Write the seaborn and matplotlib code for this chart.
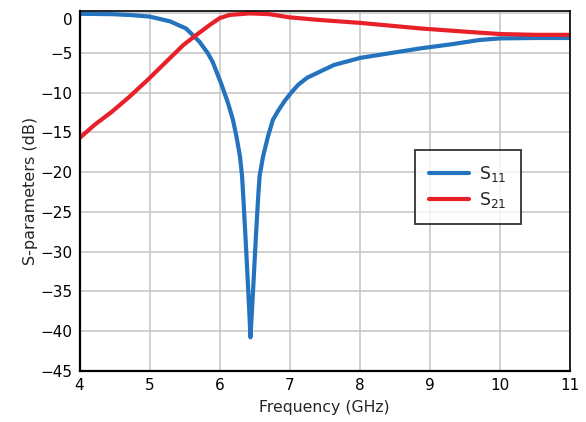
import matplotlib
matplotlib.use("Agg")
import matplotlib.pyplot as plt
import matplotlib.transforms as mtransforms
import seaborn as sns
import pandas as pd

freq_s11 = [4.0, 4.46, 4.71, 5.0, 5.29, 5.52, 5.71, 5.83, 5.90, 6.02, 6.12, 6.19, 6.24,
            6.29, 6.32, 6.34, 6.38, 6.42, 6.44, 6.48, 6.52, 6.55, 6.57, 6.62, 6.69, 6.76,
            6.84, 6.93, 7.02, 7.12, 7.25, 7.63, 8.01, 8.44, 8.87, 9.3, 9.71, 10.0, 10.5,
            11.0]
s11_db = [-0.05, -0.1, -0.2, -0.4, -1.0, -1.9, -3.55, -5.0, -6.1, -8.8, -11.3, -13.4,
          -15.5, -18.0, -20.5, -23.5, -30.0, -37.0, -40.8, -34.4, -27.7, -23.1, -20.5,
          -18.0, -15.5, -13.4, -12.2, -11.0, -10.0, -9.0, -8.1, -6.5, -5.6, -5.0, -4.4,
          -3.9, -3.35, -3.15, -3.1, -3.1]

freq_s21 = [4.0, 4.22, 4.46, 4.70, 4.97, 5.19, 5.48, 5.67, 5.86, 6.0, 6.14, 6.43, 6.71,
            7.0, 7.38, 8.01, 8.87, 9.5, 10.0, 10.5, 11.0]
s21_db = [-15.7, -14.0, -12.4, -10.6, -8.4, -6.5, -4.0, -2.7, -1.45, -0.6, -0.2, 0.0,
          -0.1, -0.5, -0.8, -1.2, -1.9, -2.3, -2.6, -2.7, -2.7]

series_labels = ["S$_{11}$", "S$_{21}$"]
x_ticks = [4, 5, 6, 7, 8, 9, 10, 11]
y_ticks = [0, -5, -10, -15, -20, -25, -30, -35, -40, -45]

df = pd.concat([
    pd.DataFrame({"f": freq_s11, "db": s11_db, "s": series_labels[0]}),
    pd.DataFrame({"f": freq_s21, "db": s21_db, "s": series_labels[1]}),
])

sns.set_style("white")
plt.rcParams["font.family"] = ["DejaVu Sans"]
plt.rcParams["mathtext.default"] = "regular"

W, H = 586, 422
left_px, right_px, top_px, bottom_px = 79.5, 570, 11, 370.7
fig = plt.figure(figsize=(W / 100, H / 100), dpi=100)
ax = fig.add_axes([left_px / W, 1 - bottom_px / H, (right_px - left_px) / W,
                   (bottom_px - top_px) / H])

sns.lineplot(data=df, x="f", y="db", hue="s", palette=["#2373BE", "#E8202A"],
             linewidth=3.0, ax=ax, legend=True)
for ln in ax.get_lines():
    ln.set_solid_joinstyle("round")

ax.set_xlim(4, 11)
ax.set_ylim(-45, 0.3)
ax.set_xticks(x_ticks)
ax.set_yticks(y_ticks)
ax.grid(True, color="#c4c4c4", linewidth=1.1)
ax.set_axisbelow(True)
for sp in ax.spines.values():
    sp.set_color("black")
    sp.set_linewidth(1.2)
ax.spines["left"].set_linewidth(1.6)
ax.spines["bottom"].set_linewidth(1.6)
ax.tick_params(axis="both", length=0, labelsize=11, pad=5, colors="black")
ax.set_xlabel("Frequency (GHz)", fontsize=11.3, labelpad=5)
ax.set_ylabel("S-parameters (dB)", fontsize=11.5, labelpad=2)

# shift the "0" label slightly down as in the reference
fig.canvas.draw()
for lbl in ax.get_yticklabels():
    if lbl.get_text() == "0":
        lbl.set_transform(lbl.get_transform() +
                          mtransforms.ScaledTranslation(0, -4.3 / 72, fig.dpi_scale_trans))

ax_w = right_px - left_px
ax_h = bottom_px - top_px
leg = ax.legend(loc="upper left",
                bbox_to_anchor=((415 - left_px) / ax_w, 1 - (150 - top_px) / ax_h),
                borderaxespad=0, frameon=True, fancybox=False, edgecolor="black",
                fontsize=12.5, handlelength=2.3, borderpad=0.8, labelspacing=0.35,
                handletextpad=0.6)
leg.get_frame().set_linewidth(1.3)

fig.savefig("out.png", dpi=100)
